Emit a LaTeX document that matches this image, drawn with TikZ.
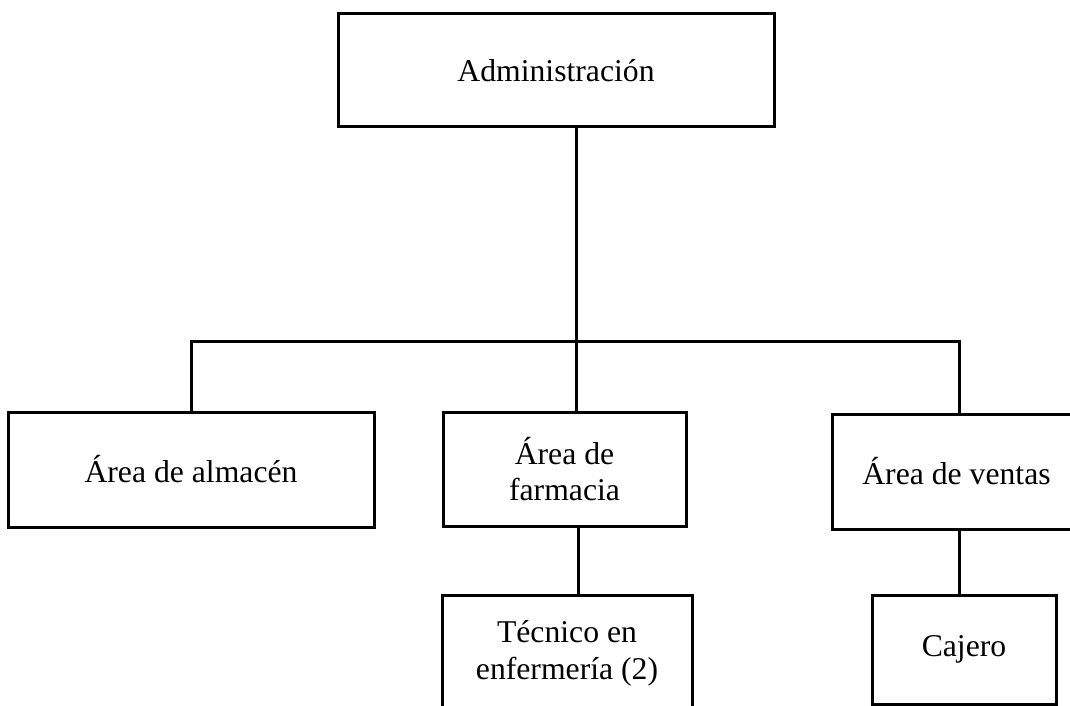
\documentclass[tikz,border=0pt]{standalone}
\usepackage{fontspec}
\setmainfont{Liberation Serif}
\begin{document}
\begin{tikzpicture}[x=1pt,y=-1pt,
  box/.style={draw, line width=3pt, rectangle, inner sep=0pt, align=center,
    font=\fontsize{31.7}{36.6}\selectfont},
  link/.style={line width=3pt}]
\useasboundingbox (0,0) rectangle (1070,706);
\clip (0,0) rectangle (1070,706);
\node[box, minimum width=436pt, minimum height=113pt] (admin) at (556,70.5) {Administración};
\node[box, minimum width=366pt, minimum height=115pt] (alm) at (191,469.5) {Área de almacén};
\node[box, minimum width=243pt, minimum height=114pt] (farm) at (564.5,469) {Área de\\farmacia};
\node[box, minimum width=249pt, minimum height=115pt] (ven) at (956.5,471.5) {Área de ventas};
\node[box, minimum width=250pt, minimum height=117pt] (tec) at (567,653.5) {Técnico en\\enfermería (2)};
\node[box, minimum width=184pt, minimum height=109pt] (caj) at (964,649.5) {Cajero};
\coordinate (jn) at (576,341);
\draw[link] ([xshift=20pt]admin.south) -- (jn);
\draw[link] (alm.north) |- (jn) -| ([xshift=2.5pt]ven.north);
\draw[link] (jn) -- (jn |- farm.north);
\draw[link] ([xshift=13.5pt]farm.south) -- ([xshift=13.5pt]farm.south |- tec.north);
\draw[link] ([xshift=2.5pt]ven.south) -- ([xshift=2.5pt]ven.south |- caj.north);
\end{tikzpicture}
\end{document}
